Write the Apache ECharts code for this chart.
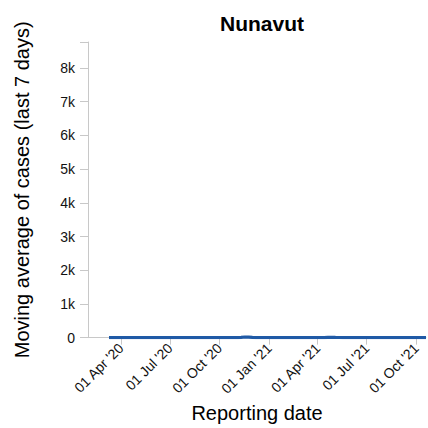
<!DOCTYPE html>
<html>
<head>
<meta charset="utf-8">
<script src="https://cdn.jsdelivr.net/npm/echarts@6/dist/echarts.min.js"></script>
<style>
  html, body { margin: 0; padding: 0; background: #fff; }
  #chart { width: 428px; height: 428px; }
</style>
</head>
<body>
<div id="chart"></div>
<script>
// Nunavut - 7 day moving average of cases
var dates = ['2020-03-10', '2020-04-28', '2020-05-05', '2020-11-04', '2020-11-10', '2020-11-17',
  '2020-11-24', '2020-12-01', '2020-12-08', '2020-12-15', '2020-12-22', '2021-01-05', '2021-01-20',
  '2021-04-13', '2021-04-20', '2021-04-27', '2021-05-04', '2021-05-11', '2021-05-18', '2021-06-01',
  '2021-06-15', '2021-09-01', '2021-10-01', '2021-10-19'];
var avgCases = [0, 0, 0, 0, 8, 19, 14, 8, 3, 2, 1, 0.5, 0, 0, 7, 9, 6, 4, 2, 1, 0, 0, 0.3, 1];
var tickMonths = [0, 3, 6, 9]; // Jan, Apr, Jul, Oct
var monthNames = ['Jan', 'Feb', 'Mar', 'Apr', 'May', 'Jun', 'Jul', 'Aug', 'Sep', 'Oct', 'Nov', 'Dec'];
var axisStart = '2020-01-31';
var axisEnd = '2021-10-19';

var font = 'Arial';
var greyAxis = '#c8c8c8';

// daily categories for the date axis
var days = [];
var t = new Date(axisStart + 'T00:00:00Z');
var tEnd = new Date(axisEnd + 'T00:00:00Z');
while (t <= tEnd) {
  days.push(t.toISOString().slice(0, 10));
  t.setUTCDate(t.getUTCDate() + 1);
}
var values = days.map(function (d) {
  var k = dates.indexOf(d);
  return k >= 0 ? avgCases[k] : null;
});

function isTick(d) {
  return d.slice(8, 10) === '01' && tickMonths.indexOf(parseInt(d.slice(5, 7), 10) - 1) >= 0;
}

// svg renderer: the canvas one drew rotated text badly here
var chart = echarts.init(document.getElementById('chart'), null, { renderer: 'svg' });

var option = {
  animation: false,
  title: {
    text: 'Nunavut',
    left: 257,
    top: 8,
    textAlign: 'center',
    textStyle: { fontFamily: font, fontSize: 21, fontWeight: 'bold', color: '#000' }
  },
  grid: { left: 88, right: 2, top: 42, bottom: 89 },
  xAxis: {
    type: 'category',
    data: days,
    boundaryGap: false,
    name: 'Reporting date',
    nameLocation: 'middle',
    nameGap: 56,
    nameTextStyle: { fontFamily: font, fontSize: 20, color: '#000' },
    axisLine: { show: true, lineStyle: { color: greyAxis } },
    axisTick: {
      show: true, length: 7, alignWithLabel: true,
      interval: function (i, d) { return isTick(d); },
      lineStyle: { color: greyAxis }
    },
    axisLabel: {
      interval: function (i, d) { return isTick(d); },
      rotate: 45,
      margin: 8,
      fontFamily: font,
      fontSize: 14,
      color: '#111',
      formatter: function (d) {
        return d.slice(8, 10) + ' ' + monthNames[parseInt(d.slice(5, 7), 10) - 1] + " '" + d.slice(2, 4);
      }
    },
    splitLine: { show: false }
  },
  yAxis: {
    type: 'value',
    min: 0,
    max: 8770,
    interval: 1000,
    name: 'Moving average of cases (last 7 days)',
    nameLocation: 'middle',
    nameGap: 56,
    nameTextStyle: { fontFamily: font, fontSize: 20, color: '#000' },
    axisLine: { show: true, lineStyle: { color: greyAxis } },
    axisTick: { show: true, length: 8, lineStyle: { color: greyAxis } },
    axisLabel: {
      margin: 13,
      fontFamily: font,
      fontSize: 14,
      color: '#111',
      formatter: function (v) {
        if (v % 1000 !== 0) return '';
        return v === 0 ? '0' : (v / 1000) + 'k';
      }
    },
    splitLine: { show: false }
  },
  series: [{
    type: 'line',
    data: values,
    connectNulls: true,
    showSymbol: false,
    lineStyle: { color: '#1f5aa6', width: 3.2 },
    itemStyle: { color: '#1f5aa6' }
  }]
};

chart.setOption(option);
</script>
</body>
</html>
